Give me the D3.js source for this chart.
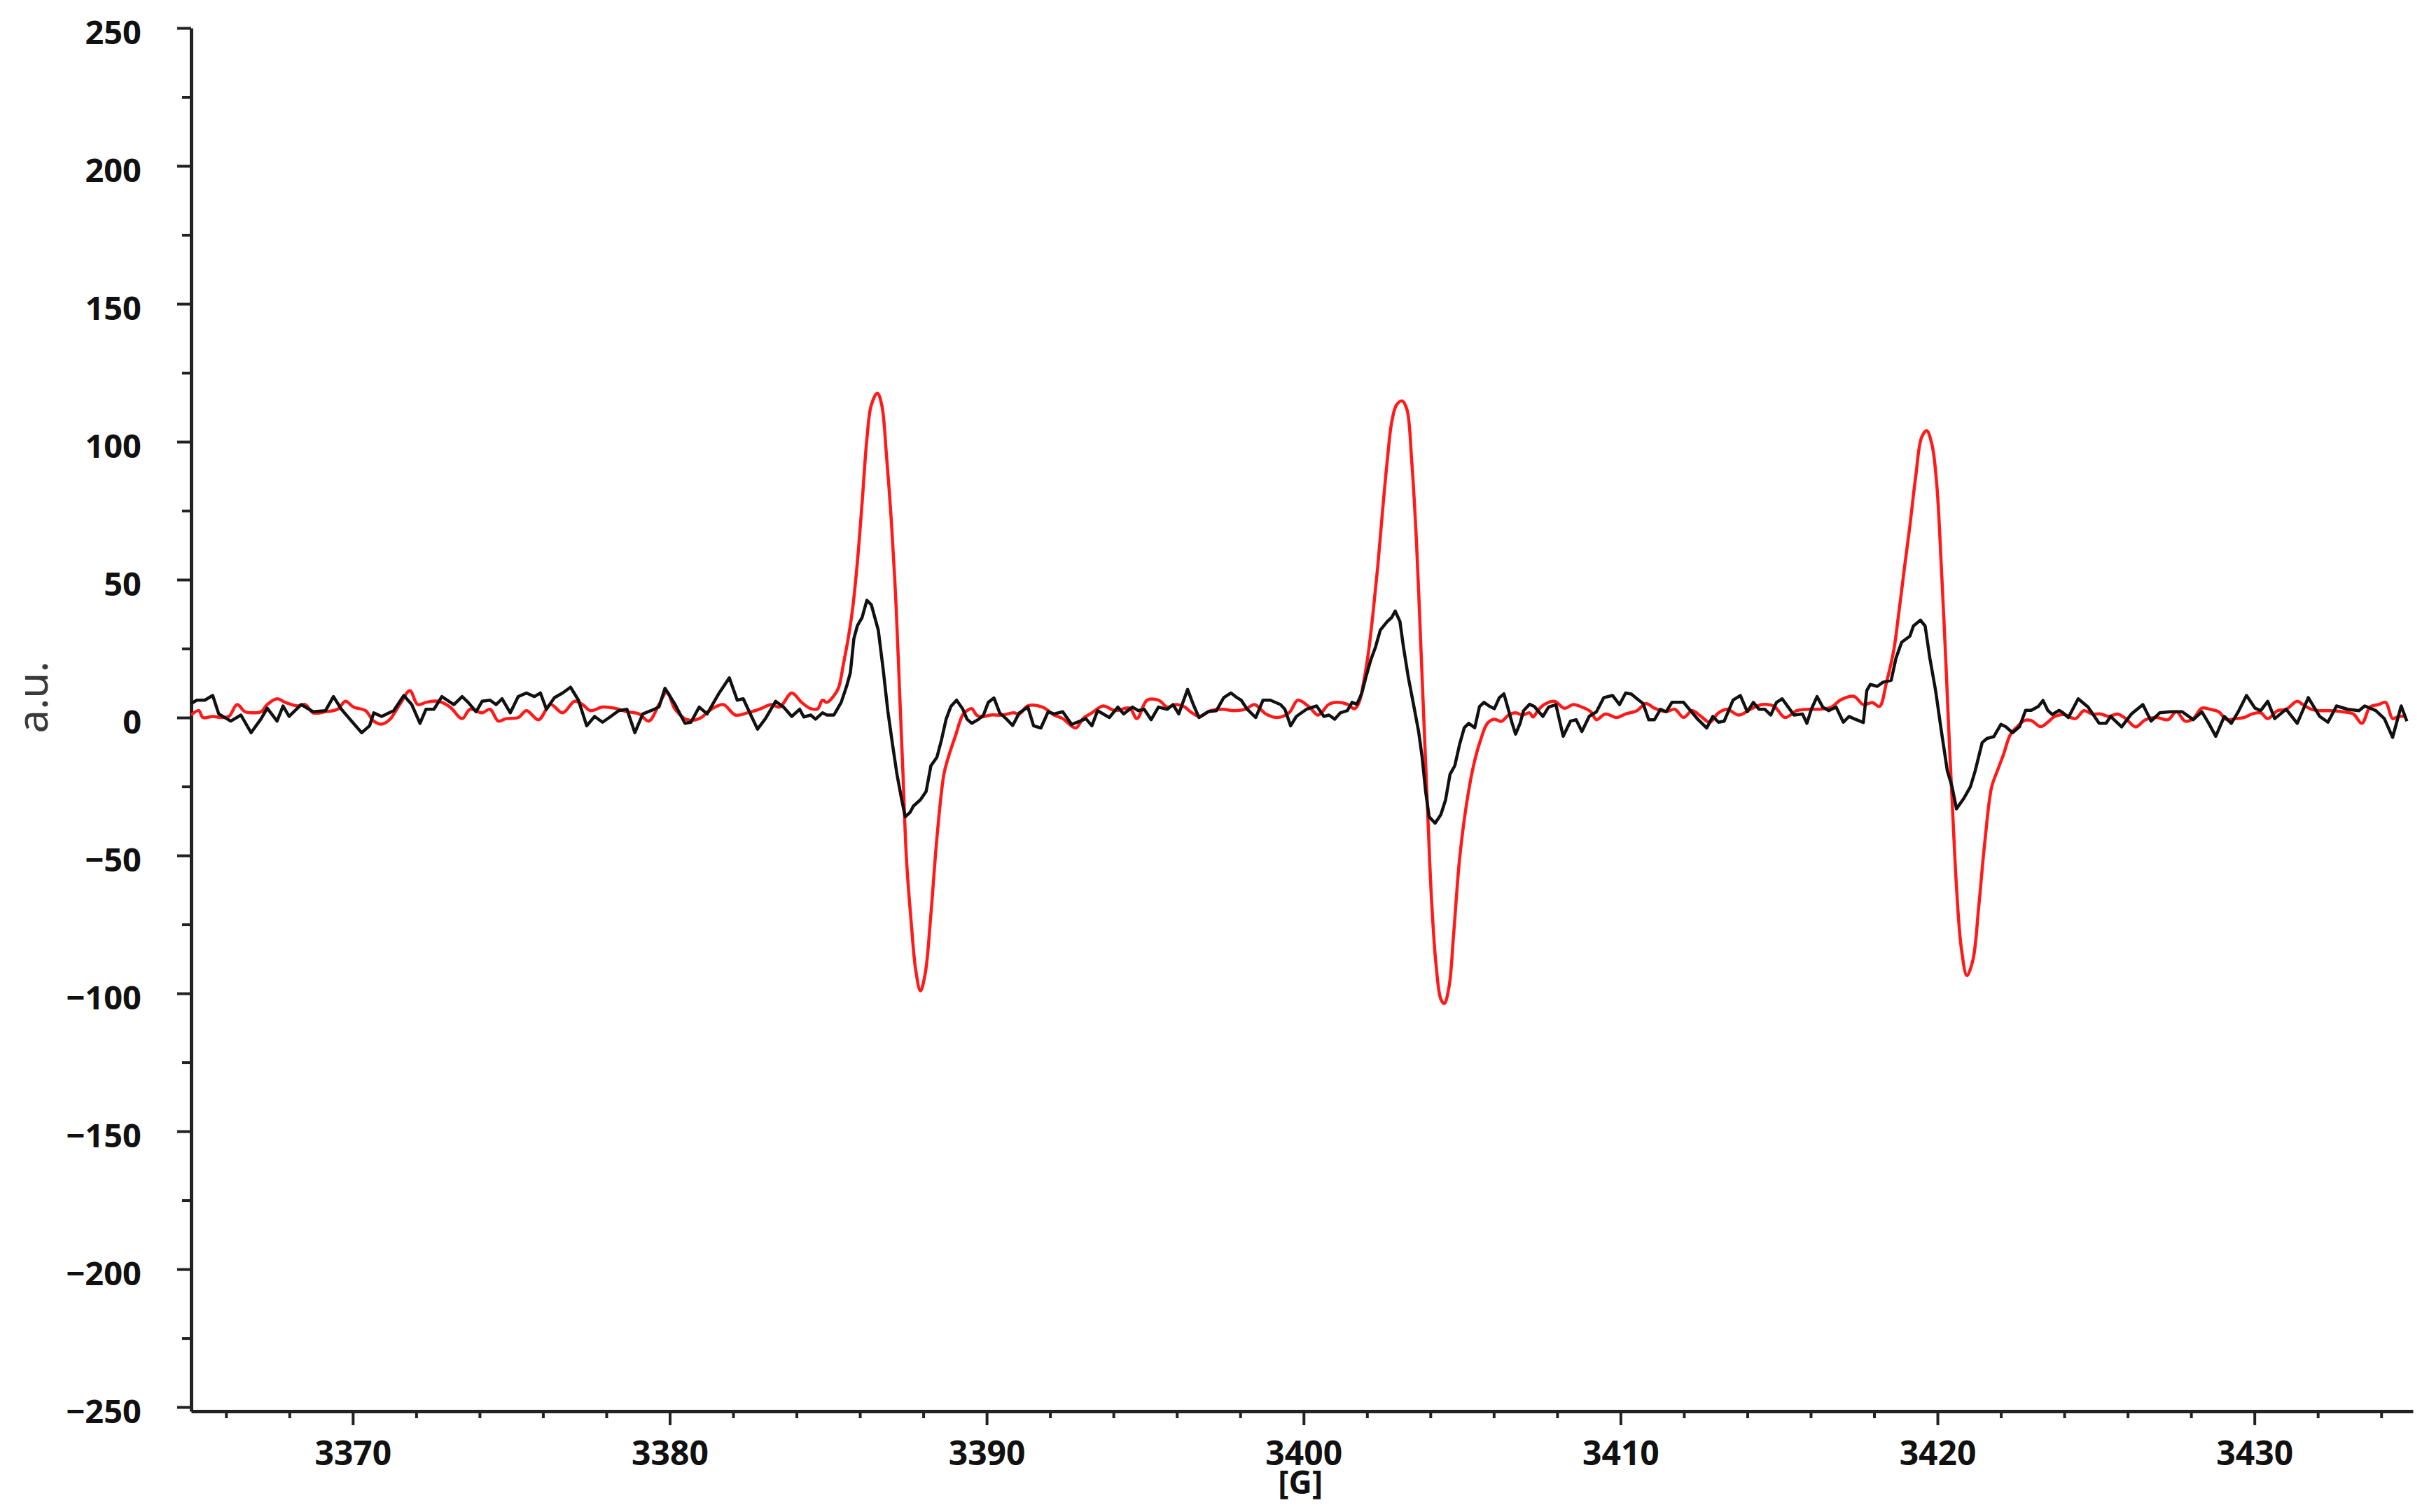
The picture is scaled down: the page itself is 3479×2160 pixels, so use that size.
<!DOCTYPE html>
<html><head><meta charset="utf-8">
<script src="https://cdn.jsdelivr.net/npm/d3@7"></script>
<style>html,body{margin:0;padding:0;background:#fff;} svg{display:block;}</style>
</head><body>
<svg id="chart" width="3479" height="2160"></svg>
<script>
// ---------- data ----------
const xTicks = [3370, 3380, 3390, 3400, 3410, 3420, 3430];
const xMinorTicks = [3366, 3368, 3372, 3374, 3376, 3378, 3382, 3384, 3386, 3388, 3392, 3394, 3396, 3398,
  3402, 3404, 3406, 3408, 3412, 3414, 3416, 3418, 3422, 3424, 3426, 3428, 3432, 3434];
const yTicks = [-250, -200, -150, -100, -50, 0, 50, 100, 150, 200, 250];
const yMinorTicks = [-225, -175, -125, -75, -25, 25, 75, 125, 175, 225];
const xTitle = "[G]";
const yTitle = "a.u.";

// simulated spectrum (red): [field G, intensity a.u.]
const redSpectrum = [
[3364.9,0.9],[3365.14,2.5],[3365.27,0],[3365.58,0.4],[3365.84,0],[3366.09,0.4],[3366.35,4.7],[3366.60,2.1],[3366.85,1.7],[3367.11,2.1],[3367.30,4.7],[3367.61,6.8],[3367.87,5.5],[3368.25,4.2],[3368.50,4.7],[3368.75,1.7],[3369.14,2.1],[3369.52,3.0],[3369.77,5.9],[3370.02,3.8],[3370.40,2.5],[3370.66,-1.3],[3370.91,-2.4],[3371.16,-0.8],[3371.48,4.7],[3371.80,9.7],[3372.05,4.7],[3372.31,5.5],[3372.69,5.9],[3373.07,3.8],[3373.45,-0.4],[3373.70,3.0],[3374.08,1.7],[3374.33,3.0],[3374.59,-1.3],[3374.84,-0.4],[3375.22,0],[3375.48,2.5],[3375.86,-0.8],[3376.24,4.7],[3376.62,1.7],[3377.00,5.9],[3377.25,4.7],[3377.50,2.5],[3377.88,3.8],[3378.26,3.4],[3378.65,2.1],[3379.03,1.3],[3379.34,-1.3],[3379.66,4.7],[3379.91,9.3],[3380.17,3.0],[3380.55,-0.8],[3380.93,-0.4],[3381.31,3.0],[3381.69,4.7],[3382.07,0.9],[3382.45,1.7],[3382.83,3.0],[3383.21,4.7],[3383.47,3.8],[3383.85,8.9],[3384.16,5.5],
[3384.45,3.2],[3384.67,3.2],[3384.82,6.3],[3384.96,5.5],[3385.18,7.9],[3385.33,10.9],[3385.48,19.4],[3385.63,28.6],[3385.77,39.4],[3385.92,56.3],[3386.07,77.9],[3386.22,100.9],[3386.36,113.3],[3386.55,117.6],[3386.69,113.3],[3386.84,94.8],[3386.99,71.7],[3387.14,41.0],[3387.25,10.2],[3387.36,-20.6],[3387.47,-51.4],[3387.62,-74.4],[3387.76,-91.4],[3387.91,-99.1],[3388.06,-92.9],[3388.24,-71.4],[3388.43,-43.7],[3388.65,-20.6],[3388.79,-14.4],[3389.01,-6.8],[3389.24,0.9],[3389.38,2.5],[3389.53,3.2],[3389.68,0.9],[3389.82,0.2],[3390.12,0.9],[3390.49,0.9],[3390.85,1.7],
[3391.03,1.3],[3391.30,4.2],[3391.76,3.8],[3392.13,0.9],[3392.40,-0.4],[3392.81,-3.8],[3393.04,-0.4],[3393.32,1.7],[3393.68,4.2],[3394.05,2.5],[3394.51,3.4],[3394.74,-0.4],[3395.06,6.3],[3395.42,6.3],[3395.70,3.8],[3395.97,4.7],[3396.25,3.8],[3396.43,2.1],[3396.71,0.4],[3397.07,2.5],[3397.44,3.0],[3397.80,2.5],[3398.17,3.0],[3398.45,4.7],[3398.81,1.3],[3399.18,0],[3399.54,1.7],[3399.82,6.3],[3400.18,3.8],[3400.46,0.9],
[3400.80,4.8],[3401.09,5.5],[3401.38,4.8],[3401.61,3.2],[3401.75,5.5],[3401.90,13.3],[3402.05,24.0],[3402.19,37.9],[3402.34,54.8],[3402.49,74.8],[3402.64,93.2],[3402.78,107.1],[3402.93,113.3],[3403.11,114.8],[3403.26,111.7],[3403.41,93.2],[3403.56,64.0],[3403.70,25.6],[3403.81,-5.2],[3403.92,-36.0],[3404.04,-66.8],[3404.18,-89.8],[3404.33,-102.1],[3404.44,-103.7],[3404.59,-97.5],[3404.73,-79.1],[3404.92,-51.4],[3405.14,-31.4],[3405.36,-17.5],[3405.58,-8.3],[3405.80,-2.1],[3406.02,-0.6],[3406.24,-1.4],[3406.47,0.9],[3406.69,1.7],[3406.91,0.9],[3407.13,1.7],[3407.24,0.2],[3407.39,2.5],
[3407.59,4.7],[3407.91,5.9],[3408.23,3.4],[3408.51,4.7],[3408.78,3.8],[3409.06,2.1],[3409.24,-0.8],[3409.52,1.3],[3409.88,0],[3410.16,1.3],[3410.52,2.5],[3410.80,5.1],[3411.07,3.4],[3411.44,2.1],[3411.71,3.0],[3411.99,0],[3412.26,2.5],[3412.54,0.4],[3412.81,-1.7],[3413.09,1.7],[3413.36,3.0],[3413.73,0.9],[3414.10,3.0],[3414.46,4.7],[3414.83,4.2],[3415.19,0],[3415.56,2.5],[3415.93,3.0],[3416.29,3.0],[3416.66,3.8],[3416.93,6.3],
[3417.36,7.7],[3417.66,4.7],[3417.95,5.4],[3418.17,4.0],[3418.39,12.7],[3418.62,24.4],[3418.76,36.1],[3418.95,53.6],[3419.13,69.6],[3419.31,87.1],[3419.50,101.6],[3419.66,104.0],[3419.83,98.7],[3419.98,84.1],[3420.12,55.0],[3420.27,18.6],[3420.38,-10.6],[3420.49,-36.8],[3420.60,-61.5],[3420.75,-83.4],[3420.93,-93.6],[3421.12,-87.8],[3421.30,-68.8],[3421.49,-45.5],[3421.71,-25.1],[3421.89,-19.3],[3422.08,-13.5],[3422.30,-6.2],[3422.52,-3.3],[3422.74,-1.1],[3422.96,-1.1],[3423.25,-3.3],[3423.47,-1.8],[3423.70,0.4],[3423.99,1.1],
[3424.35,-0.4],[3424.62,2.5],[3424.88,1.3],[3425.15,1.3],[3425.41,0.4],[3425.68,1.3],[3425.94,-0.4],[3426.25,-3.4],[3426.56,-0.8],[3426.92,0],[3427.27,-0.8],[3427.54,2.1],[3427.81,-1.3],[3428.07,-0.4],[3428.34,3.4],[3428.60,3.0],[3428.87,2.1],[3429.13,-0.8],[3429.40,-0.4],[3429.67,0],[3429.93,1.3],[3430.20,1.7],[3430.42,-0.4],[3430.73,2.5],[3431.00,3.0],[3431.35,5.9],[3431.53,4.7],[3431.79,3.0],[3432.06,2.5],[3432.41,2.5],[3432.77,2.1],[3433.12,1.3],[3433.39,-2.1],[3433.65,3.8],[3433.92,4.7],[3434.14,5.5],[3434.36,-0.4],[3434.54,0.4],[3434.76,0.4]
];

// experimental spectrum (black): [field G, intensity a.u.]
const blackSpectrum = [
[3364.9,5.1],[3365.08,6.3],[3365.33,6.3],[3365.58,8.0],[3365.77,1.3],[3366.15,-1.3],[3366.47,0.9],[3366.79,-5.5],[3367.11,-0.4],[3367.30,3.4],[3367.61,-1.3],[3367.80,4.2],[3367.99,0.4],[3368.37,4.7],[3368.75,2.1],[3369.14,2.5],[3369.39,7.6],[3369.64,3.0],[3370.02,-2.1],[3370.28,-5.5],[3370.53,-3.0],[3370.66,1.7],[3370.91,0.4],[3371.29,2.5],[3371.61,8.0],[3371.86,4.7],[3372.12,-2.1],[3372.31,3.0],[3372.56,3.0],[3372.81,7.6],[3373.19,4.7],[3373.45,7.6],[3373.64,5.5],[3373.89,2.1],[3374.08,5.9],[3374.33,6.3],[3374.52,4.7],[3374.71,6.8],[3374.97,1.7],[3375.22,7.6],[3375.48,8.9],[3375.73,7.6],[3375.92,8.9],[3376.11,3.0],[3376.36,7.2],[3376.62,8.9],[3376.87,11.0],[3377.12,6.3],[3377.38,-3.0],[3377.63,0.4],[3377.88,-1.7],[3378.14,0.4],[3378.39,2.5],[3378.65,3.0],[3378.90,-5.5],[3379.15,1.3],[3379.41,2.5],[3379.66,3.8],[3379.85,10.6],[3380.17,4.7],[3380.48,-2.1],[3380.67,-1.7],[3380.93,3.8],[3381.18,1.3],[3381.56,8.9],[3381.88,14.4],[3382.13,6.3],[3382.32,6.8],[3382.58,0.4],[3382.77,-4.2],[3383.02,-0.4],[3383.34,5.9],[3383.59,3.8],[3383.85,0.4],[3384.10,3.0],
[3384.23,0.2],[3384.45,0.9],[3384.60,-0.6],[3384.82,1.7],[3384.96,0.9],[3385.18,0.9],[3385.41,5.5],[3385.59,11.7],[3385.70,16.3],[3385.81,28.6],[3385.92,33.3],[3386.07,36.3],[3386.22,42.5],[3386.36,40.9],[3386.58,31.7],[3386.73,17.9],[3386.88,2.5],[3387.03,-9.8],[3387.17,-20.6],[3387.32,-29.8],[3387.43,-36.0],[3387.58,-34.4],[3387.69,-32.1],[3387.91,-29.8],[3388.09,-26.8],[3388.24,-17.5],[3388.43,-14.4],[3388.57,-8.3],[3388.72,-0.6],[3388.87,4.0],[3389.05,6.3],[3389.24,3.2],[3389.38,-0.6],[3389.53,-2.1],[3389.75,-0.6],[3389.90,0.9],[3390.05,5.5],[3390.23,7.1],[3390.41,1.7],[3390.63,-0.6],[3390.82,-2.9],
[3391.03,1.7],[3391.30,3.8],[3391.48,-3.0],[3391.71,-3.8],[3391.94,2.1],[3392.13,1.3],[3392.40,2.1],[3392.68,-2.5],[3392.95,-1.3],[3393.13,-0.4],[3393.32,-3.0],[3393.50,2.5],[3393.87,0],[3394.14,3.8],[3394.32,1.3],[3394.60,3.8],[3394.78,2.5],[3394.97,3.0],[3395.19,-0.8],[3395.42,3.8],[3395.70,3.0],[3395.88,4.7],[3396.06,1.3],[3396.34,10.2],[3396.52,4.7],[3396.70,0],[3396.98,2.1],[3397.25,2.5],[3397.48,7.2],[3397.71,8.9],[3397.90,7.2],[3398.03,6.3],[3398.22,3.0],[3398.49,0],[3398.72,6.3],[3398.95,6.3],[3399.27,4.7],[3399.41,3.0],[3399.59,-3.0],[3399.77,0.4],[3400.09,3.0],[3400.41,4.2],[3400.64,0.4],
[3400.80,0.9],[3400.98,-0.6],[3401.16,1.7],[3401.38,2.5],[3401.53,5.5],[3401.68,4.8],[3401.83,8.6],[3401.97,14.8],[3402.12,20.9],[3402.27,25.6],[3402.42,31.7],[3402.64,34.8],[3402.78,36.3],[3402.89,38.6],[3403.04,34.8],[3403.15,25.6],[3403.30,14.8],[3403.48,4.0],[3403.63,-5.2],[3403.74,-14.4],[3403.85,-26.8],[3403.96,-36.0],[3404.15,-38.3],[3404.33,-35.2],[3404.48,-29.8],[3404.62,-20.6],[3404.77,-17.5],[3404.92,-9.8],[3405.07,-3.7],[3405.21,-2.1],[3405.40,-3.7],[3405.55,4.0],[3405.69,5.5],[3405.88,4.0],[3406.02,3.2],[3406.17,7.1],[3406.32,8.6],[3406.47,2.5],[3406.58,-2.1],[3406.69,-6.0],[3406.83,-2.1],[3406.94,2.5],[3407.13,4.8],[3407.28,4.0],[3407.39,2.5],
[3407.55,0.4],[3407.73,3.8],[3407.96,4.7],[3408.19,-6.8],[3408.42,-1.3],[3408.60,-0.8],[3408.78,-5.1],[3409.01,0.4],[3409.24,2.1],[3409.47,7.2],[3409.75,8.0],[3409.97,4.7],[3410.16,8.9],[3410.34,8.5],[3410.52,6.8],[3410.71,5.1],[3410.89,-0.8],[3411.07,-0.8],[3411.26,3.0],[3411.44,2.1],[3411.62,5.5],[3411.81,5.5],[3411.99,5.5],[3412.17,3.0],[3412.45,-0.8],[3412.72,-3.8],[3412.91,0.4],[3413.09,-1.7],[3413.27,-1.3],[3413.55,6.3],[3413.78,8.0],[3414.00,2.1],[3414.19,5.5],[3414.37,3.0],[3414.55,3.0],[3414.74,0.9],[3414.92,5.5],[3415.10,6.8],[3415.29,3.8],[3415.47,0.9],[3415.74,1.3],[3415.88,-2.1],[3416.02,3.0],[3416.20,7.6],[3416.38,3.8],[3416.57,2.5],[3416.80,3.8],[3417.03,-1.7],[3417.21,0.4],
[3417.36,-0.4],[3417.66,-1.8],[3417.77,9.8],[3417.88,12.0],[3418.10,11.3],[3418.28,12.8],[3418.54,13.5],[3418.69,21.5],[3418.87,27.3],[3419.13,29.5],[3419.24,33.2],[3419.46,35.3],[3419.61,33.2],[3419.76,21.5],[3419.94,9.8],[3420.12,-4.7],[3420.31,-19.3],[3420.46,-25.1],[3420.60,-33.1],[3420.82,-29.5],[3421.04,-25.1],[3421.19,-19.3],[3421.41,-9.1],[3421.56,-7.6],[3421.78,-6.9],[3422.00,-2.5],[3422.15,-3.3],[3422.37,-5.5],[3422.59,-3.3],[3422.78,2.6],[3422.96,2.6],[3423.18,4.0],[3423.33,6.2],[3423.48,2.6],[3423.62,1.1],[3423.84,2.6],[3423.95,1.8],
[3424.13,0],[3424.44,6.8],[3424.75,3.8],[3425.10,-2.1],[3425.32,-2.1],[3425.46,0.4],[3425.81,-3.4],[3426.12,1.3],[3426.48,4.7],[3426.74,-1.3],[3427.01,1.7],[3427.36,2.1],[3427.72,2.1],[3428.07,-0.8],[3428.34,2.1],[3428.56,-2.1],[3428.78,-6.8],[3429.05,0.4],[3429.27,-2.1],[3429.49,2.1],[3429.75,8.0],[3430.02,3.4],[3430.20,2.5],[3430.42,5.9],[3430.64,-0.4],[3431.00,3.0],[3431.35,-2.1],[3431.70,7.2],[3432.06,0.4],[3432.32,-1.7],[3432.59,4.2],[3432.94,3.0],[3433.30,2.5],[3433.48,4.2],[3433.83,2.5],[3434.10,-0.4],[3434.36,-7.2],[3434.63,4.2],[3434.81,-1.3]
];

// ---------- drawing ----------
const svg = d3.select("#chart");
const x = d3.scaleLinear().domain([3364.9, 3435]).range([273, 3446]);
const y = d3.scaleLinear().domain([-251.5, 250]).range([2016, 40]);
const axisColor = "#222";
const tickFont = "'Open Sans', 'Liberation Sans', sans-serif";

// minor ticks
svg.append("g").attr("transform", "translate(0,2016)")
  .call(d3.axisBottom(x).tickValues(xMinorTicks).tickSize(10).tickSizeOuter(0).tickFormat(""))
  .call(g => g.select(".domain").remove())
  .call(g => g.selectAll("line").attr("stroke", axisColor).attr("stroke-width", 4));
svg.append("g").attr("transform", "translate(273,0)")
  .call(d3.axisLeft(y).tickValues(yMinorTicks).tickSize(13).tickSizeOuter(0).tickFormat(""))
  .call(g => g.select(".domain").remove())
  .call(g => g.selectAll("line").attr("stroke", axisColor).attr("stroke-width", 4));

// major axes
const xAxis = svg.append("g").attr("transform", "translate(0,2016)")
  .call(d3.axisBottom(x).tickValues(xTicks).tickSize(20).tickPadding(23).tickSizeOuter(0).tickFormat(d3.format("d")));
xAxis.select(".domain").attr("stroke", axisColor).attr("stroke-width", 5);
xAxis.selectAll("line").attr("stroke", axisColor).attr("stroke-width", 4);
xAxis.selectAll("text").attr("fill", "#111").style("font-family", tickFont)
  .style("font-size", "48px").style("font-weight", 700);

const yAxis = svg.append("g").attr("transform", "translate(273,0)")
  .call(d3.axisLeft(y).tickValues(yTicks).tickSize(20).tickPadding(51).tickSizeOuter(0).tickFormat(d3.format("d")));
yAxis.select(".domain").attr("stroke", axisColor).attr("stroke-width", 5);
yAxis.selectAll("line").attr("stroke", axisColor).attr("stroke-width", 4);
yAxis.selectAll("text").attr("fill", "#111").attr("dy", "0.47em").style("font-family", tickFont)
  .style("font-size", "47px").style("font-weight", 700);

// axis titles
svg.append("text").attr("x", x(3399.9)).attr("y", 2134).attr("text-anchor", "middle")
  .style("font-family", tickFont).style("font-size", "46px").style("font-weight", 700).attr("fill", "#111")
  .text(xTitle);
svg.append("text").attr("transform", "translate(68,996) rotate(-90)").attr("text-anchor", "middle")
  .style("font-family", "'Noto Sans', 'Open Sans', sans-serif").style("font-size", "60px").attr("fill", "#3a3a3a")
  .text(yTitle);

// traces
svg.append("path").datum(redSpectrum)
  .attr("d", d3.line().x(d => x(d[0])).y(d => y(d[1])).curve(d3.curveCatmullRom.alpha(0.5)))
  .attr("fill", "none").attr("stroke", "#ff1a1a").attr("stroke-width", 4.5).attr("stroke-linejoin", "round");
svg.append("path").datum(blackSpectrum)
  .attr("d", d3.line().x(d => x(d[0])).y(d => y(d[1])).curve(d3.curveLinear))
  .attr("fill", "none").attr("stroke", "#111").attr("stroke-width", 4.5).attr("stroke-linejoin", "round");
</script>
</body></html>
